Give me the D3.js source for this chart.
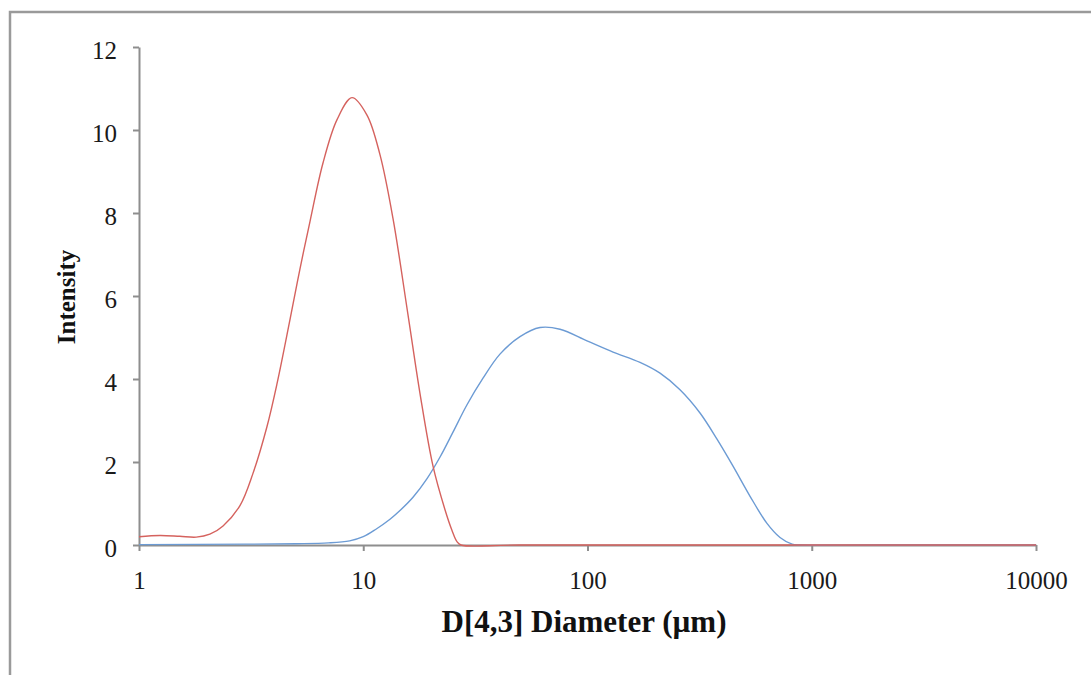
<!DOCTYPE html>
<html>
<head>
<meta charset="utf-8">
<script src="https://cdn.jsdelivr.net/npm/d3@7"></script>
<style>
  html, body { margin: 0; padding: 0; background: #fff; }
  svg { display: block; }
</style>
</head>
<body>
<svg id="chart" width="1091" height="675"></svg>
<script>
// Particle size distributions (diameter in µm, intensity)
const redDiameters = [1.00, 1.24, 1.52, 1.80, 2.07, 2.37, 2.82, 3.22, 3.72, 4.13, 4.72, 5.22, 5.79, 6.61, 7.64, 8.91, 10.39, 11.88, 13.57, 15.84, 17.91, 20.47, 23.15, 24.88, 26.18, 27.29, 50, 10000];
const redValues    = [0.20, 0.23, 0.21, 0.19, 0.26, 0.46, 0.95, 1.72, 2.85, 3.90, 5.45, 6.65, 7.80, 9.20, 10.25, 10.78, 10.36, 9.40, 7.87, 5.54, 3.65, 1.90, 0.85, 0.35, 0.08, 0.00, 0.00, 0.00];

const blueDiameters = [1.00, 3.0, 5.0, 7.0, 8.7, 10.0, 11.39, 13.16, 14.58, 16.67, 19.25, 22.0, 25.13, 29.02, 34.2, 40.7, 50.0, 61.4, 75.4, 99.5, 130, 171.5, 210.6, 258.5, 317.5, 378, 445.6, 530, 631.5, 722, 817, 886, 2000, 10000];
const blueValues    = [0.01, 0.02, 0.03, 0.05, 0.10, 0.20, 0.38, 0.62, 0.83, 1.15, 1.60, 2.12, 2.72, 3.38, 4.02, 4.60, 5.02, 5.24, 5.20, 4.92, 4.65, 4.40, 4.14, 3.74, 3.18, 2.55, 1.90, 1.18, 0.52, 0.18, 0.02, 0.00, 0.00, 0.00];

const xTicks = [1, 10, 100, 1000, 10000];
const yTicks = [0, 2, 4, 6, 8, 10, 12];

const svg = d3.select("#chart");

// outer frame
svg.append("rect")
  .attr("x", 10).attr("y", 12)
  .attr("width", 1100).attr("height", 700)
  .attr("fill", "none")
  .attr("stroke", "#9a9a9a")
  .attr("stroke-width", 2.5);

const x = d3.scaleLog().domain([1, 10000]).range([139, 1036]);
const y = d3.scaleLinear().domain([0, 12]).range([545, 47]);

const axisColor = "#8e8e8e";
const serif = "'Liberation Serif', 'Times New Roman', serif";

// y axis
const gy = svg.append("g")
  .attr("transform", `translate(${x(1)},0)`)
  .call(d3.axisLeft(y).tickValues(yTicks).tickFormat(d3.format("d")).tickSize(6).tickSizeOuter(0));
gy.select(".domain").attr("stroke", axisColor).attr("stroke-width", 2);
gy.selectAll(".tick line").attr("stroke", axisColor).attr("stroke-width", 2);
gy.selectAll(".tick text")
  .attr("x", -22).attr("dy", null).attr("y", 11)
  .attr("fill", "#1a1a1a")
  .style("font-family", serif).style("font-size", "25px");

// series
const line = d3.line()
  .x(d => x(d[0]))
  .y(d => y(d[1]))
  .curve(d3.curveCatmullRom.alpha(0.5));

const redSeries = d3.zip(redDiameters, redValues);
const blueSeries = d3.zip(blueDiameters, blueValues);

// x axis
const gx = svg.append("g")
  .attr("transform", `translate(0,${y(0)})`)
  .call(d3.axisBottom(x).tickValues(xTicks).tickFormat(d3.format("d")).tickSize(6).tickSizeOuter(0));
gx.select(".domain").attr("stroke", axisColor).attr("stroke-width", 2);
gx.selectAll(".tick line").attr("stroke", axisColor).attr("stroke-width", 2);
gx.selectAll(".tick text")
  .attr("y", 44).attr("dy", null)
  .attr("fill", "#1a1a1a")
  .style("font-family", serif).style("font-size", "25px");

svg.append("path")
  .datum(blueSeries)
  .attr("fill", "none")
  .attr("stroke", "#6c9bd4")
  .attr("stroke-width", 1.4)
  .attr("d", line);

svg.append("path")
  .datum(redSeries)
  .attr("fill", "none")
  .attr("stroke", "#d5625e")
  .attr("stroke-width", 1.4)
  .attr("d", line);

// axis titles
svg.append("text")
  .attr("x", 584).attr("y", 632)
  .attr("text-anchor", "middle")
  .attr("fill", "#111")
  .style("font-family", serif).style("font-size", "31px").style("font-weight", "bold")
  .text("D[4,3] Diameter (µm)");

svg.append("text")
  .attr("transform", "translate(75,297) rotate(-90)")
  .attr("text-anchor", "middle")
  .attr("fill", "#111")
  .style("font-family", serif).style("font-size", "25px").style("font-weight", "bold")
  .text("Intensity");
</script>
</body>
</html>
